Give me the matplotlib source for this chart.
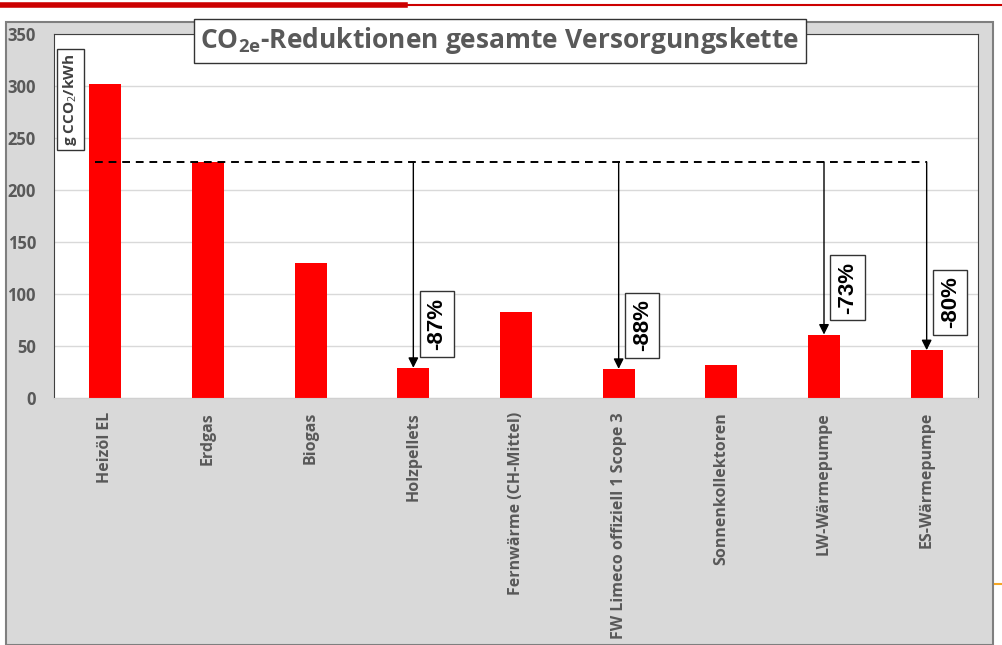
import matplotlib.pyplot as plt
from matplotlib.patches import Rectangle
from matplotlib.lines import Line2D

plt.rcParams['font.family'] = ['Open Sans', 'DejaVu Sans']
plt.rcParams['mathtext.fontset'] = 'custom'
plt.rcParams['mathtext.rm'] = 'Open Sans'
plt.rcParams['mathtext.bf'] = 'Open Sans:bold'

# data
categories = ["Heizöl EL", "Erdgas", "Biogas", "Holzpellets", "Fernwärme (CH-Mittel)",
              "FW Limeco offiziell 1 Scope 3", "Sonnenkollektoren", "LW-Wärmepumpe", "ES-Wärmepumpe"]
values = [302, 227, 130, 29, 83, 28, 32, 61, 46]
reference = 227  # Erdgas level
arrow_idx = [3, 5, 7, 8]
arrow_labels = ["-87%", "-88%", "-73%", "-80%"]
label_x = [3.23, 5.23, 7.23, 8.23]
label_y = [71, 70, 106, 92]

grey = "#595959"

fig = plt.figure(figsize=(10.03, 6.45), dpi=100, facecolor="white")

# grey slide background + top red rules
fig.patches.append(Rectangle((6 / 1003, 0), 987 / 1003, 623 / 645, transform=fig.transFigure,
                             facecolor="#d9d9d9", edgecolor="#7f7f7f", lw=1.5, zorder=-1))
fig.add_artist(Line2D([0, 405 / 1003], [1 - 5 / 645] * 2, color="#cc0000", lw=4))
fig.add_artist(Line2D([405 / 1003, 1], [1 - 5 / 645] * 2, color="#cc0000", lw=1.5))
fig.add_artist(Line2D([995 / 1003, 1], [1 - 584 / 645] * 2, color="#f5a623", lw=1.5))

ax = fig.add_axes([54 / 1003, 247 / 645, 924 / 1003, 364 / 645])
ax.set_zorder(1)
ax.set_facecolor("white")

x = list(range(len(categories)))
ax.bar(x, values, width=0.31, color="#ff0000", zorder=2)

ax.set_xlim(-0.5, len(categories) - 0.5)
ax.set_ylim(0, 350)
ax.set_yticks(range(0, 351, 50))
ax.yaxis.grid(True, color="#d9d9d9", lw=1, zorder=0)
ax.set_axisbelow(True)
ax.tick_params(axis="both", length=0, colors=grey, labelsize=12)
ax.tick_params(axis="y", pad=13)
ax.tick_params(axis="x", pad=10)
ax.set_xticks(x)
ax.set_xticklabels(categories, rotation=90, fontweight="bold", fontsize=11.5, color=grey)
for t in ax.get_yticklabels():
    t.set_fontweight("bold")

for s in ["left", "top", "right"]:
    ax.spines[s].set_color("#404040")
ax.spines["bottom"].set_color("#d0d0d0")

# dashed reference line
ax.plot([-0.1, 8.0], [reference, reference], color="black", lw=1.4, ls=(0, (4, 3)), zorder=3)

for i, lab, lx, ly in zip(arrow_idx, arrow_labels, label_x, label_y):
    ax.annotate("", xy=(i, values[i]), xytext=(i, reference),
                arrowprops=dict(arrowstyle="-|>", color="black", lw=1, mutation_scale=15,
                                shrinkA=0, shrinkB=0), zorder=4)
    ax.text(lx, ly, lab, rotation=90, ha="center", va="center", fontsize=16, fontweight="bold",
            family="Liberation Sans",
            bbox=dict(boxstyle="square,pad=0.3", facecolor="white", edgecolor="#333333", lw=1),
            zorder=5)

ax.text(-0.34, 287, "g CCO$_2$/kWh", rotation=90, ha="center", va="center", fontsize=11,
        fontweight="bold", color="#404040",
        bbox=dict(boxstyle="square,pad=0.3", facecolor="white", edgecolor="#333333", lw=1))

fig.text(500 / 1003, 1 - 41 / 645, r"CO$_{\mathbf{2e}}$-Reduktionen gesamte Versorgungskette",
         ha="center", va="center", fontsize=19, fontweight="bold", color=grey,
         bbox=dict(boxstyle="square,pad=0.25", facecolor="white", edgecolor="#333333", lw=1))

fig.savefig("out.png", dpi=100)
